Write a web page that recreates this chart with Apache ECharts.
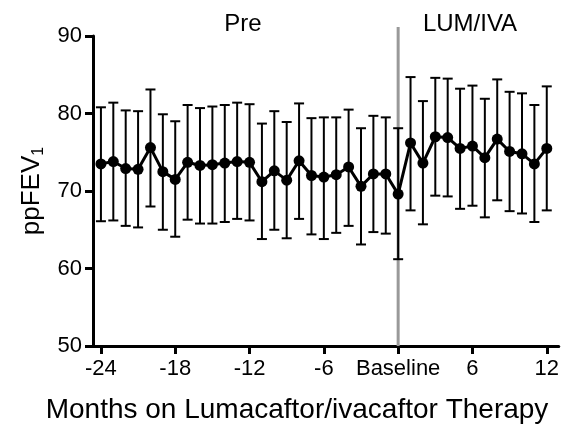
<!DOCTYPE html>
<html>
<head>
<meta charset="utf-8">
<script src="https://cdn.jsdelivr.net/npm/echarts@6/dist/echarts.min.js"></script>
<style>
  html, body { margin: 0; padding: 0; background: #fff; }
  #container { width: 562px; height: 428px; }
</style>
</head>
<body>
<div id="container"></div>
<script>
var months = [-24, -23, -22, -21, -20, -19, -18, -17, -16, -15, -14, -13,
              -12, -11, -10, -9, -8, -7, -6, -5, -4, -3, -2, -1,
              0, 1, 2, 3, 4, 5, 6, 7, 8, 9, 10, 11, 12];
var meanFEV = [73.5, 73.8, 72.9, 72.8, 75.6, 72.5, 71.5, 73.7, 73.3, 73.4, 73.6, 73.8,
               73.7, 71.2, 72.6, 71.4, 73.9, 72.0, 71.8, 72.1, 73.1, 70.6, 72.2, 72.2,
               69.6, 76.2, 73.6, 77.0, 76.9, 75.5, 75.8, 74.3, 76.7, 75.1, 74.8, 73.5, 75.5];
var upperFEV = [80.8, 81.4, 80.4, 80.3, 83.1, 79.9, 79.0, 81.1, 80.7, 80.9, 81.1, 81.4,
                81.2, 78.7, 80.3, 78.9, 81.3, 79.4, 79.5, 79.5, 80.5, 78.1, 79.7, 79.5,
                78.1, 84.7, 81.6, 84.6, 84.5, 83.2, 83.6, 81.9, 84.4, 82.8, 82.6, 81.1, 83.5];
var lowerFEV = [66.1, 66.2, 65.5, 65.3, 68.0, 65.0, 64.1, 66.3, 65.8, 65.8, 66.0, 66.4,
                66.2, 63.8, 65.0, 63.9, 66.4, 64.4, 63.8, 64.6, 65.5, 63.1, 64.7, 64.5,
                61.2, 67.5, 65.7, 69.4, 69.3, 67.7, 68.1, 66.6, 68.8, 67.4, 67.1, 66.0, 67.5];
var xTicks = [-24, -18, -12, -6, 0, 6, 12];
var yTicks = [50, 60, 70, 80, 90];
// baseline divider: month, bottom and top value
var baselineLine = [[0, 50, 91.15]];

var font = '"Liberation Sans", Arial, sans-serif';

var dom = document.getElementById('container');
var myChart = echarts.init(dom);

var meanData = months.map(function (m, i) { return [m, meanFEV[i]]; });
var barData = months.map(function (m, i) { return [m, lowerFEV[i], upperFEV[i]]; });

function renderErrorBar(params, api) {
    var x = api.value(0);
    var lo = api.coord([x, api.value(1)]);
    var hi = api.coord([x, api.value(2)]);
    var w = 5;
    var style = { stroke: '#000', lineWidth: 2 };
    return {
        type: 'group',
        children: [
            { type: 'line', shape: { x1: lo[0], y1: lo[1], x2: hi[0], y2: hi[1] }, style: style },
            { type: 'line', shape: { x1: hi[0] - w, y1: hi[1], x2: hi[0] + w, y2: hi[1] }, style: style },
            { type: 'line', shape: { x1: lo[0] - w, y1: lo[1], x2: lo[0] + w, y2: lo[1] }, style: style }
        ]
    };
}

function renderDivider(params, api) {
    var x = api.value(0);
    var lo = api.coord([x, api.value(1)]);
    var hi = api.coord([x, api.value(2)]);
    return {
        type: 'line',
        shape: { x1: lo[0], y1: lo[1], x2: hi[0], y2: hi[1] },
        style: { stroke: '#999', lineWidth: 3 }
    };
}

var option = {
    animation: false,
    backgroundColor: '#fff',
    textStyle: { fontFamily: font },
    grid: { left: 93, right: 0, top: 36, bottom: 82 },
    graphic: [
        { type: 'text', x: 243, y: 12, style: { text: 'Pre', font: '24px ' + font, fill: '#000', align: 'center' } },
        { type: 'text', x: 470, y: 12, style: { text: 'LUM/IVA', font: '24px ' + font, fill: '#000', align: 'center' } },
        { type: 'text', x: 297, y: 396, style: { text: 'Months on Lumacaftor/ivacaftor Therapy', font: '28px ' + font, fill: '#000', align: 'center' } }
    ],
    xAxis: {
        type: 'value',
        min: -24.64,
        max: 12.97,
        splitLine: { show: false },
        axisLine: { onZero: false, lineStyle: { color: '#000', width: 3 } },
        axisTick: { customValues: xTicks, length: 8, lineStyle: { color: '#000', width: 3 } },
        axisLabel: {
            customValues: xTicks,
            margin: 12,
            fontSize: 22,
            color: '#000',
            fontFamily: font,
            formatter: function (v) { return v === 0 ? 'Baseline' : String(v); }
        }
    },
    yAxis: {
        type: 'value',
        min: 50,
        max: 90,
        interval: 10,
        splitLine: { show: false },
        axisLine: { show: true, onZero: false, lineStyle: { color: '#000', width: 3 } },
        axisTick: { show: true, customValues: yTicks, length: 8, lineStyle: { color: '#000', width: 3 } },
        axisLabel: { margin: 11, fontSize: 22, color: '#000', fontFamily: font },
        name: '{a|ppFEV}{b|1}',
        nameLocation: 'middle',
        nameRotate: 90,
        nameGap: 37,
        nameTextStyle: {
            rich: {
                a: { fontSize: 26, color: '#000', fontFamily: font, lineHeight: 30 },
                b: { fontSize: 16, color: '#000', fontFamily: font, lineHeight: 14, verticalAlign: 'bottom' }
            }
        }
    },
    series: [
        {
            type: 'custom',
            z: 1,
            clip: false,
            silent: true,
            renderItem: renderDivider,
            data: baselineLine
        },
        {
            type: 'custom',
            z: 2,
            renderItem: renderErrorBar,
            data: barData
        },
        {
            type: 'line',
            z: 3,
            data: meanData,
            symbol: 'circle',
            symbolSize: 11,
            itemStyle: { color: '#000' },
            lineStyle: { color: '#000', width: 3 }
        }
    ]
};

if (option && typeof option === 'object') {
    myChart.setOption(option, true);
}
window.addEventListener('resize', function () {
    myChart.resize();
});
</script>
</body>
</html>
